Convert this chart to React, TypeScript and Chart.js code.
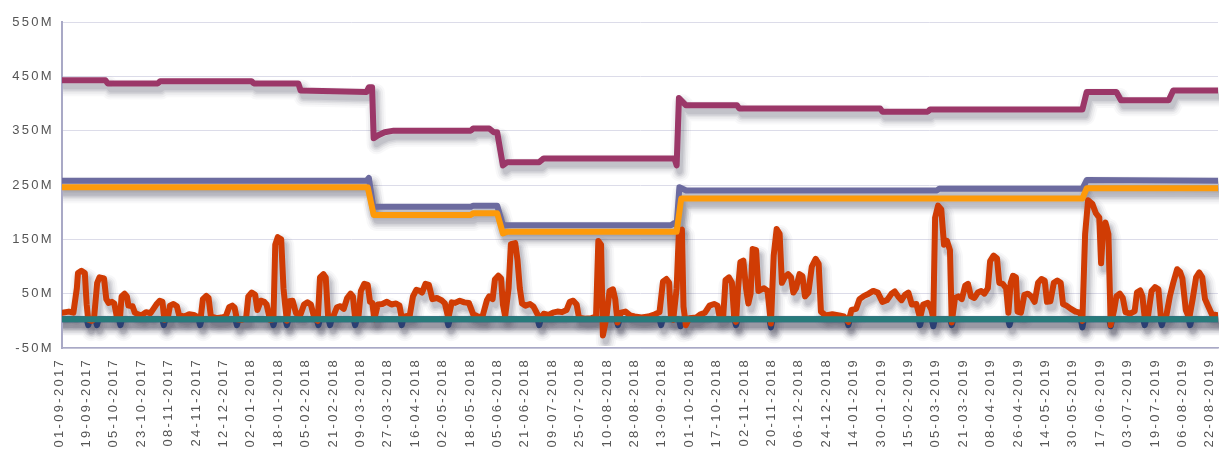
import { useEffect, useRef } from 'react';
import { Chart, registerables } from 'chart.js';

Chart.register(...registerables);

// x = business-day index counted from 01-09-2017, y = value in millions
const xTickLabels = [
  '01-09-2017', '19-09-2017', '05-10-2017', '23-10-2017', '08-11-2017', '24-11-2017',
  '12-12-2017', '02-01-2018', '18-01-2018', '05-02-2018', '21-02-2018', '09-03-2018',
  '27-03-2018', '16-04-2018', '02-05-2018', '18-05-2018', '05-06-2018', '21-06-2018',
  '09-07-2018', '25-07-2018', '10-08-2018', '28-08-2018', '13-09-2018', '01-10-2018',
  '17-10-2018', '02-11-2018', '20-11-2018', '06-12-2018', '24-12-2018', '14-01-2019',
  '30-01-2019', '15-02-2019', '05-03-2019', '21-03-2019', '08-04-2019', '26-04-2019',
  '14-05-2019', '30-05-2019', '17-06-2019', '03-07-2019', '19-07-2019', '06-08-2019',
  '22-08-2019',
];
const daysPerTick = 12;
const lastDay = 506.3;
const yMin = -50;
const yMax = 550;
const yStep = 100;

const purpleSeries: [number, number][] = [
  [0, 443], [19, 443], [20, 437], [42, 437], [43, 441], [83, 441], [84, 437], [103.5, 437],
  [104.5, 424], [133.4, 421], [134.4, 430], [135.8, 430], [136.5, 336], [138.3, 341],
  [141.3, 347], [145.3, 350], [179.1, 350], [180.1, 354], [187.1, 354], [189.1, 347],
  [190.6, 347], [193.1, 286], [195, 292], [209, 292], [211, 299], [268.2, 299], [269.2, 286],
  [270.2, 410], [273.2, 397], [295.6, 397], [296.6, 391], [358.3, 391], [359.3, 385],
  [379.2, 385], [380.2, 389], [446.9, 389], [448.8, 421], [461.8, 421], [463.8, 406],
  [484.7, 406], [486.7, 424], [506.3, 424],
];

const blueSeries: [number, number][] = [
  [0, 258], [133.4, 258], [134.4, 263], [136.3, 210], [179.1, 210], [180.1, 212], [190.6, 212],
  [193.1, 176], [266.7, 176], [268.2, 180], [269.2, 176], [270.4, 246], [273.4, 240],
  [383.2, 240], [384.2, 243], [446.9, 243], [448.8, 259], [506.3, 258],
];

const orangeSeries: [number, number][] = [
  [0, 246], [133.9, 246], [136.5, 195], [179.1, 195], [180.1, 198], [190.6, 198], [193.1, 161],
  [195, 164], [269.2, 164], [271.2, 225], [446.9, 225], [448.8, 244], [506.3, 244],
];

const tealSeries: [number, number][] = [
  [0, 3], [506.3, 3],
];

const redSeries: [number, number][] = [
  [0, 15], [3, 17], [5, 15], [6.5, 60], [7, 88], [8.5, 92], [10, 88], [10.8, 30], [11.5, 2],
  [13, 0], [14, 3], [15.4, 70], [16.4, 80], [18.4, 78], [19.4, 40], [20.4, 33], [21.9, 35],
  [22.9, 32], [23.9, 10], [25.4, 5], [26.1, 45], [27.4, 50], [28.4, 45], [29.1, 28], [30.9, 27],
  [31.9, 15], [33.3, 12], [34.8, 10], [36.8, 16], [38.8, 14], [41.3, 30], [42.8, 37], [44, 35],
  [44.8, 2], [46.3, 5], [47.3, 28], [48.8, 31], [50.3, 27], [51.3, 10], [53.7, 8], [55.7, 12],
  [57.7, 11], [60.7, 4], [61.7, 40], [63.2, 46], [64.2, 42], [65.2, 8], [67.7, 5], [69.7, 6],
  [71.7, 8], [73.2, 25], [74.6, 28], [75.6, 24], [76.6, 3], [78.6, 2], [80.6, 4], [81.6, 45],
  [83.1, 52], [84.6, 48], [85.6, 20], [87.1, 37], [88.6, 35], [89.6, 30], [91.1, 2], [92.6, 3],
  [93.4, 140], [94.5, 154], [96, 150], [97, 60], [97.7, 30], [98.5, 0], [99.5, 36], [101, 37],
  [102.5, 14], [104.5, 12], [106, 30], [107.5, 34], [109, 30], [110.5, 5], [112, 0], [113, 80],
  [114.5, 86], [115.5, 80], [116.5, 10], [118.5, 5], [120.4, 25], [121.9, 27], [123.4, 22],
  [124.9, 42], [126.4, 50], [127.4, 45], [128.4, 3], [129.9, 10], [130.9, 55], [132.4, 68],
  [133.9, 66], [134.9, 35], [135.9, 33], [136.8, 3], [138.3, 30], [140.3, 31], [142.3, 35],
  [144.3, 30], [146.3, 32], [147.8, 28], [148.8, 5], [150.3, 8], [152.3, 10], [153.7, 45],
  [155.2, 57], [156.7, 55], [157.7, 52], [159.2, 68], [160.7, 66], [162.2, 40], [164.2, 42],
  [166.2, 38], [167.7, 32], [169.2, 5], [170.7, 34], [172.2, 33], [174.2, 37], [176.2, 34],
  [178.2, 33], [180.1, 12], [182.1, 8], [184.1, 7], [186.1, 38], [187.1, 45], [188.6, 40],
  [189.6, 76], [191.1, 83], [192.3, 78], [193.1, 30], [194.1, 8], [195.6, 60], [196.6, 141],
  [198.5, 143], [199.5, 112], [200.5, 60], [201.5, 32], [203, 28], [205, 31], [206.5, 26],
  [208, 14], [209.5, 3], [211, 13], [213, 11], [215, 15], [217, 17], [219, 16], [221, 20],
  [222.4, 35], [223.9, 37], [225.4, 30], [226.4, 6], [228.9, 4], [231.9, 5], [233.9, 8],
  [234.9, 147], [236.1, 140], [236.9, -27], [238.4, 5], [239.8, 55], [241.3, 58], [242.3, 40],
  [243.3, -3], [244.8, 15], [246.8, 17], [248.8, 10], [250.8, 8], [253.8, 6], [256.8, 8],
  [259.7, 12], [261.7, 16], [263.2, 72], [264.7, 77], [265.9, 70], [266.7, 5], [267.7, 2],
  [269.2, 60], [270.2, 165], [271.5, 168], [272.2, 26], [273.2, -8], [274.7, 5], [277.7, 6],
  [279.7, 12], [281.6, 15], [283.6, 28], [285.6, 31], [287.1, 28], [288.1, 5], [289.6, 8],
  [290.6, 75], [292.1, 80], [293.4, 70], [294.4, 5], [295.2, -2], [296.1, 60], [297.1, 108],
  [298.4, 111], [299.6, 60], [300.6, 32], [301.6, 50], [302.5, 132], [304, 130], [305, 55],
  [306, 57], [307.5, 60], [309, 55], [310.5, -5], [311.7, 120], [313, 169], [314.3, 160],
  [315.3, 70], [316.5, 80], [318, 86], [319.3, 80], [320.3, 52], [321.5, 60], [323, 86],
  [324.3, 82], [325.4, 45], [326.9, 52], [328.4, 100], [330.1, 114], [331.4, 105], [332.4, 17],
  [334.4, 10], [337.4, 12], [340.4, 10], [342.4, 8], [344.4, -2], [345.8, 20], [347.8, 22],
  [349.3, 40], [351.3, 46], [353.3, 50], [355.3, 55], [357.3, 52], [359.3, 35], [361.3, 38],
  [363.3, 50], [364.7, 54], [366.2, 45], [367.7, 38], [369.2, 48], [370.7, 52], [372.2, 30],
  [374.2, 31], [375.8, 5], [377.2, 30], [379.2, 33], [380.7, 21], [381.6, 5], [382.4, 190],
  [383.7, 212], [385.1, 205], [386.3, 140], [387.6, 147], [388.9, 130], [389.7, -3], [391.1, 42],
  [392.6, 45], [394.1, 40], [395.6, 65], [396.8, 68], [398.1, 45], [399.6, 42], [401.1, 52],
  [402.6, 55], [404, 50], [405.5, 60], [406.5, 110], [408, 120], [409.5, 115], [410.5, 70],
  [412, 68], [413.5, 60], [414.5, 15], [415.5, 70], [416.5, 83], [417.8, 80], [418.5, 17],
  [420, 15], [421.5, 48], [423, 50], [424.5, 45], [426, 35], [427.5, 70], [429, 77], [430.4, 74],
  [431.4, 35], [432.9, 36], [434.4, 70], [435.9, 74], [437.4, 70], [438.4, 31], [439.9, 28],
  [441.9, 22], [443.9, 17], [445.9, 15], [446.9, 0], [448.1, 160], [449.4, 222], [451.3, 215],
  [452.8, 198], [454.3, 190], [455.1, 106], [456, 170], [457, 181], [458.3, 160], [459.3, -8],
  [460.8, 20], [461.8, 45], [463.3, 50], [464.6, 42], [465.8, 16], [467.8, 13], [469.8, 18],
  [470.8, 52], [472.2, 56], [473.2, 45], [474.2, 5], [475.7, 10], [477.2, 55], [478.7, 62],
  [480.2, 58], [481.2, 10], [482.2, 5], [483.7, 10], [485.2, 45], [486.7, 70], [488.4, 95],
  [489.7, 90], [490.7, 78], [492.2, 20], [493.7, 5], [495.2, 40], [496.7, 80], [498.1, 89],
  [499.4, 80], [500.6, 40], [502.1, 26], [503.6, 12], [506.3, 10],
];

const navySeries: [number, number][] = [
  [0, 3],
  [10.8, 3], [11.5, -8], [12.2, 3],
  [14.6, 3], [15.3, -8], [16, 3],
  [24.9, 3], [25.6, -8], [26.3, 3],
  [43.9, 3], [44.6, -8], [45.3, 3],
  [59.8, 3], [60.5, -8], [61.2, 3],
  [75.9, 3], [76.6, -8], [77.3, 3],
  [91.9, 3], [92.6, -8], [93.3, 3],
  [97.8, 3], [98.5, -8], [99.2, 3],
  [111.6, 3], [112.3, -8], [113, 3],
  [116.7, 3], [117.4, -8], [118.1, 3],
  [127.7, 3], [128.4, -8], [129.1, 3],
  [148.1, 3], [148.8, -8], [149.5, 3],
  [168.5, 3], [169.2, -8], [169.9, 3],
  [208.3, 3], [209, -8], [209.7, 3],
  [242.8, 3], [243.5, -8], [244.2, 3],
  [261.7, 3], [262.4, -8], [263.1, 3],
  [270.2, 3], [270.9, -10], [271.6, 3],
  [294.5, 3], [295.2, -8], [295.9, 3],
  [309.8, 3], [310.5, -12], [311.2, 3],
  [343.7, 3], [344.4, -8], [345.1, 3],
  [375.1, 3], [375.8, -8], [376.5, 3],
  [380.9, 3], [381.6, -10], [382.3, 3],
  [389, 3], [389.7, -8], [390.4, 3],
  [414.3, 3], [415, -8], [415.7, 3],
  [446.2, 3], [446.9, -12], [447.6, 3],
  [458.6, 3], [459.3, -10], [460, 3],
  [473.5, 3], [474.2, -8], [474.9, 3],
  [481, 3], [481.7, -8], [482.4, 3],
  [493.4, 3], [494.1, -8], [494.8, 3],
  [506.3, 3],
];

// Soft drop shadow under every line, drawn from the points Chart.js has already positioned.
const shadowLayers: [number, number][] = [
  [20, 0.035], [16, 0.05], [12, 0.07], [9, 0.09], [6, 0.1],
];
const shadowPlugin = {
  id: 'lineShadow',
  beforeDatasetsDraw(chart: any) {
    const ctx = chart.ctx;
    const area = chart.chartArea;
    ctx.save();
    ctx.beginPath();
    ctx.rect(area.left + 1, area.top - 4, area.right - area.left + 8, area.bottom - area.top + 2);
    ctx.clip();
    ctx.lineJoin = 'round';
    ctx.lineCap = 'round';
    const metas = chart.getSortedVisibleDatasetMetas();
    for (const meta of metas) {
      const pts = meta.data;
      if (!pts || !pts.length) continue;
      for (const [w, a] of shadowLayers) {
        ctx.strokeStyle = `rgba(60,60,75,${a})`;
        ctx.lineWidth = w;
        ctx.beginPath();
        pts.forEach((p: any, i: number) => {
          if (i === 0) ctx.moveTo(p.x + 3, p.y + 6);
          else ctx.lineTo(p.x + 3, p.y + 6);
        });
        ctx.stroke();
      }
    }
    ctx.restore();
  },
};

const spacingPlugin = {
  id: 'letterSpacing',
  beforeUpdate(chart: any) {
    chart.ctx.letterSpacing = '2.3px';
  },
  beforeDraw(chart: any) {
    chart.ctx.letterSpacing = '2.3px';
  },
};

export default function App() {
  const ref = useRef<HTMLCanvasElement>(null);

  useEffect(() => {
    if (!ref.current) return;
    const toXY = (s: [number, number][]) => s.map(([x, y]) => ({ x, y }));
    const mk = (label: string, data: [number, number][], color: string, width = 6) => ({
      label,
      data: toXY(data),
      borderColor: color,
      backgroundColor: color,
      borderWidth: width,
      pointRadius: 0,
      pointHoverRadius: 0,
      tension: 0,
      borderJoinStyle: 'round' as const,
      borderCapStyle: 'round' as const,
      fill: false,
    });
    const tickFont = { family: "'Liberation Sans', Arial, sans-serif", size: 13 };
    const chart = new Chart(ref.current, {
      type: 'line',
      data: {
        datasets: [
          mk('Purple', purpleSeries, '#9b3768'),
          mk('Orange', orangeSeries, '#fd9a0a'),
          mk('Blue', blueSeries, '#6c6b9f'),
          mk('Teal', tealSeries, '#277b7b'),
          mk('Red', redSeries, '#d03c04'),
          mk('Navy', navySeries, '#2b3f73'),
        ] as any,
      },
      options: {
        animation: false,
        responsive: false,
        devicePixelRatio: 1,
        layout: { padding: { top: 22, right: 1, left: 0, bottom: 0 } },
        plugins: { legend: { display: false }, tooltip: { enabled: false } },
        events: [],
        scales: {
          x: {
            type: 'linear',
            min: 0,
            max: lastDay,
            afterBuildTicks: (scale: any) => {
              scale.ticks = xTickLabels.map((_, i) => ({ value: i * daysPerTick }));
            },
            afterFit: (scale: any) => {
              scale.height = 107;
              scale.paddingLeft = 0;
              scale.paddingRight = 0;
            },
            grid: { display: false, drawTicks: false },
            border: { display: true, color: '#a9a9c6', width: 1.5 },
            ticks: {
              autoSkip: false,
              minRotation: 90,
              maxRotation: 90,
              padding: 10,
              labelOffset: -3,
              color: '#555555',
              font: tickFont,
              callback: (v: any) => xTickLabels[Math.round(Number(v) / daysPerTick)] ?? '',
            },
          },
          y: {
            type: 'linear',
            min: yMin,
            max: yMax,
            afterFit: (scale: any) => {
              scale.width = 62;
            },
            grid: { color: '#dcdce9', lineWidth: 1, drawTicks: false },
            border: { display: true, color: '#a9a9c6', width: 2 },
            ticks: {
              stepSize: yStep,
              padding: 8,
              color: '#555555',
              font: tickFont,
              callback: (v: any) => `${v}M`,
            },
          },
        },
      } as any,
      plugins: [shadowPlugin, spacingPlugin],
    });
    return () => chart.destroy();
  }, []);

  return (
    <div style={{ position: 'absolute', left: 0, top: 0, width: 1219, height: 455, background: '#ffffff' }}>
      <canvas ref={ref} width={1219} height={455} style={{ display: 'block', width: 1219, height: 455 }} />
    </div>
  );
}
